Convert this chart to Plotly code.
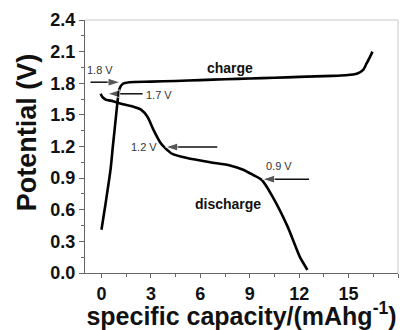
import plotly.graph_objects as go

charge_x = [0, 0.25, 0.55, 0.69, 0.89, 1.0, 1.1, 1.3, 1.7, 3.0, 4.5, 6.0, 7.5, 9.0, 10.5, 12.0, 13.0, 14.0, 14.8, 15.5, 15.9, 16.1, 16.3, 16.45]
charge_y = [0.41, 0.66, 0.98, 1.2, 1.5, 1.66, 1.75, 1.795, 1.81, 1.815, 1.822, 1.83, 1.838, 1.845, 1.852, 1.86, 1.865, 1.87, 1.876, 1.89, 1.93, 1.99, 2.05, 2.1]

discharge_x = [-0.05, 0.05, 0.25, 0.7, 1.3, 1.9, 2.4, 2.8, 3.15, 3.6, 3.9, 4.3, 5.2, 6.6, 7.8, 8.6, 9.2, 9.75, 10.4, 11.3, 12.05, 12.5]
discharge_y = [1.70, 1.67, 1.645, 1.63, 1.60, 1.58, 1.55, 1.48, 1.36, 1.23, 1.18, 1.13, 1.09, 1.05, 1.02, 0.98, 0.93, 0.88, 0.72, 0.44, 0.15, 0.03]

x_ticks = [0, 3, 6, 9, 12, 15, 18]
y_ticks = [0.0, 0.3, 0.6, 0.9, 1.2, 1.5, 1.8, 2.1, 2.4]

# (label, text_x, text_y, arrow_tail_x, arrow_head_x, arrow_y)
marks = [
    ("1.8 V", -0.06, 1.93, -0.67, 1.15, 1.81),
    ("1.7 V", 3.5, 1.69, 2.5, 0.36, 1.70),
    ("1.2 V", 2.6, 1.195, 7.03, 3.88, 1.195),
    ("0.9 V", 10.8, 1.015, 12.6, 9.76, 0.89),
]

FONT = "Liberation Sans, Arial"

fig = go.Figure()
fig.add_trace(go.Scatter(x=charge_x, y=charge_y, mode="lines",
                         line=dict(color="black", width=2.6, shape="spline", smoothing=0.6),
                         showlegend=False))
fig.add_trace(go.Scatter(x=discharge_x, y=discharge_y, mode="lines",
                         line=dict(color="black", width=2.6, shape="spline", smoothing=0.6),
                         showlegend=False))

for label, tx, ty, tail, head, ay in marks:
    fig.add_trace(go.Scatter(x=[tail, head], y=[ay, ay], mode="lines+markers",
                             line=dict(color="#111", width=1.5),
                             marker=dict(symbol="arrow", angleref="previous",
                                         size=[0, 13], color="#111"),
                             showlegend=False, hoverinfo="skip"))
    fig.add_annotation(x=tx, y=ty, text=label, showarrow=False,
                       font=dict(family=FONT, size=11, color="#333"))

fig.add_annotation(x=7.8, y=1.945, text="<b>charge</b>", showarrow=False,
                   font=dict(family=FONT, size=14, color="#111"))
fig.add_annotation(x=7.7, y=0.655, text="<b>discharge</b>", showarrow=False,
                   font=dict(family=FONT, size=14, color="#111"))

# y-axis title placed as in the reference (slightly above centre)
fig.add_annotation(xref="paper", yref="paper", x=-0.185, y=0.557, text="<b>Potential (V)</b>",
                   textangle=-90, showarrow=False, xanchor="center", yanchor="middle",
                   font=dict(family=FONT, size=27, color="#111"))

# light frame on top and right
fig.add_shape(type="line", xref="paper", yref="paper", x0=0, x1=1, y0=1, y1=1,
              line=dict(color="#c8c8c8", width=1))
fig.add_shape(type="line", xref="paper", yref="paper", x0=1, x1=1, y0=0, y1=1,
              line=dict(color="#c8c8c8", width=1))

tickfont = dict(family=FONT, size=18, color="#111", weight="bold")
fig.update_xaxes(range=[-1, 18], tickvals=x_ticks, ticktext=[str(v) for v in x_ticks],
                 showgrid=False, zeroline=False, showline=True, linecolor="#666", linewidth=1.2,
                 ticks="outside", ticklen=4, tickwidth=1.2, tickcolor="#666", tickfont=tickfont,
                 minor=dict(dtick=1.5, tick0=0, ticks="outside", ticklen=3, tickcolor="#666", tickwidth=1),
                 title=dict(text="specific capacity/(mAhg<sup>-1</sup>)", standoff=0,
                            font=dict(family=FONT, size=25, color="#111", weight="bold")))
fig.update_yaxes(range=[0, 2.4], tickvals=y_ticks, ticktext=[f"{v:.1f}" for v in y_ticks],
                 showgrid=False, zeroline=False, showline=True, linecolor="#666", linewidth=1.2,
                 ticks="outside", ticklen=5, tickwidth=1.2, tickcolor="#666", tickfont=tickfont,
                 minor=dict(dtick=0.15, tick0=0, ticks="outside", ticklen=3, tickcolor="#666", tickwidth=1))

fig.update_layout(width=407, height=330, margin=dict(l=85, r=9, t=20, b=57),
                  plot_bgcolor="white", paper_bgcolor="white")
fig.write_html("out.html")
